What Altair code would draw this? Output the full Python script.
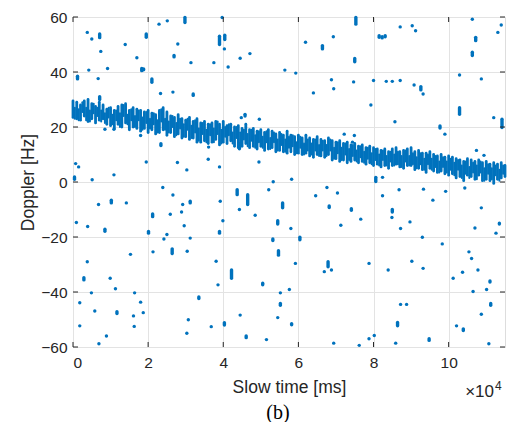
import altair as alt
import pandas as pd

# ---- data (x in units of 1e4 ms, Doppler in Hz) ----
band_x = [round(i * 0.1, 1) for i in range(116)]
band_hi = [29.5, 29, 28, 29.5, 30, 28.5, 27.5, 29, 28, 26.5,
           27, 26, 27.5, 28, 28.5, 26, 27, 26.5, 26, 25.5,
           26, 25, 24.5, 26, 27, 25.5, 24, 23.5, 24.5, 23,
           22.5, 23.5, 22, 23, 21.5, 22, 21, 21.5, 22, 21,
           22, 20.5, 21, 20, 20.5, 19.5, 21, 19, 19.5, 18.5,
           19, 18, 19, 18.5, 17.5, 18, 17, 18.5, 17, 16.5,
           17, 16, 17, 16, 15.5, 16.5, 15.5, 15, 16, 15,
           14.5, 15, 14, 14.5, 13.5, 14, 13, 13.5, 12.5, 13,
           12.5, 12, 11.5, 12, 11, 12, 12.5, 11, 11.5, 12,
           12.5, 11, 11.5, 10.5, 10.5, 11, 10, 9.5, 10, 9,
           9.5, 9, 8.5, 8, 7.5, 8.5, 8, 7.5, 8, 7,
           7.5, 6.5, 7, 6.5, 7, 6]
band_lo = [23.5, 23, 22.5, 24, 22, 23, 21.5, 22.5, 23, 21,
           20.5, 19.5, 21, 20, 21.5, 19, 20, 19.5, 18.5, 19.5,
           18, 19, 17.5, 18, 19, 17, 18, 16.5, 17.5, 16,
           16.5, 15.5, 16, 14.5, 14.5, 15, 14, 14.5, 15.5, 13.5,
           14.5, 14, 15, 13, 12.5, 13, 14, 12.5, 13, 12,
           13, 11.5, 12, 12.5, 11, 11.5, 11, 10.5, 11, 10,
           10.5, 10, 10.5, 9.5, 9, 10, 9.5, 9, 10, 8,
           8.5, 7.5, 8, 7, 7.5, 8, 7, 7.5, 6.5, 7,
           6, 6.5, 5.5, 6, 5, 6, 6.5, 5.5, 5, 6,
           6, 4.5, 5, 4.5, 3.5, 5, 4, 3.5, 4, 3,
           2.5, 3, 1.5, 2, 0.5, 2.5, 2, 1, 2.5, 0.5,
           1, 0.5, -0.5, 1, 1.5, 2]

band2_x = [round(0.05 + i * 0.1, 2) for i in range(115)]
band2_hi = [27, 26.5, 29, 27, 26, 28.5, 27, 26, 25, 27,
            24.5, 26, 25, 28, 24.5, 26.5, 24, 26, 23.5, 25.5,
            23, 25, 22.5, 26.5, 23, 22, 24, 21.5, 23, 21,
            23, 20.5, 22.5, 19.5, 21.5, 19, 21, 19.5, 22, 19,
            20, 21, 18, 20, 18, 19, 17.5, 19, 17, 18.5,
            16.5, 18.5, 16, 18, 15.5, 17.5, 15.5, 16.5, 17, 14.5,
            16.5, 14, 15.5, 14, 15.5, 13.5, 15, 13.5, 15.5, 12.5,
            14.5, 12.5, 14, 12, 13.5, 11.5, 13, 11, 12.5, 10.5,
            12, 10, 11.5, 9.5, 11, 10, 11, 9.5, 11.5, 9.5,
            10.5, 9, 10.5, 8.5, 10, 8.5, 9.5, 7.5, 9, 7.5,
            8.5, 7, 8, 6, 7.5, 5.5, 7, 6, 7.5, 5,
            6.5, 5, 6, 4.5, 6]
band2_lo = [23, 22.5, 25.5, 22.5, 22, 25, 24, 22, 21.5, 23.5,
            21, 22.5, 20, 24, 21, 22.5, 20, 22.5, 19, 21.5,
            19.5, 21, 18, 22, 19, 18, 20, 17, 19.5, 16.5,
            19, 16, 18, 15, 17.5, 14.5, 17, 14.5, 17.5, 14,
            16.5, 17, 14, 16, 13, 15.5, 13, 15, 12.5, 14.5,
            12.5, 14.5, 12, 14.5, 11.5, 13.5, 11, 12.5, 13, 10.5,
            12.5, 10, 11.5, 10, 11.5, 9.5, 11.5, 9.5, 11.5, 8.5,
            10.5, 8, 10, 8, 9.5, 7.5, 9, 7, 8.5, 6.5,
            8, 6, 8, 6, 7.5, 6, 6.5, 5.5, 7.5, 6,
            6.5, 5, 6.5, 4.5, 6.5, 4.5, 5.5, 3.5, 5.5, 3.5,
            4.5, 2.5, 4.5, 1.5, 3, 1.5, 3.5, 1, 3.5, 0.5,
            3, 1, 2.5, 0.5, 3]

out_x = [0.38, 0.50, 0.71, 0.74, 0.42, 0.12, 0.67, 0.71, 0.92, 1.39,
         1.70, 1.95, 1.83, 1.88, 2.10, 2.29, 2.51, 2.98, 2.33, 2.66,
         2.69, 2.79, 3.14, 3.20, 3.75, 3.90, 3.97, 4.04, 4.03, 4.13,
         4.45, 4.71, 5.64, 5.93, 6.19, 6.40, 6.64, 6.88, 6.93, 6.94,
         7.47, 7.50, 7.53, 7.93, 8.00, 8.15, 8.23, 8.31, 8.34, 8.50,
         8.71, 8.71, 9.03, 9.12, 9.08, 9.26, 9.32, 10.29, 10.29, 10.63,
         10.63, 10.72, 10.87, 11.31, 11.40, 11.20, 11.42, 10.74, 10.94, 8.57,
         9.90, 9.77, 7.22, 7.49, 7.44, 4.96, 4.48, 4.58,
         0.07, 0.15, 0.04, 0.51, 1.09, 0.85, 1.09, 1.80, 2.34, 1.95,
         2.78, 3.03, 3.61, 3.60, 3.90, 4.43, 4.95, 5.82, 5.33, 8.06,
         8.24, 10.43,
         0.09, 0.39, 0.38, 0.29, 0.49, 0.18, 0.58, 0.18, 0.68, 0.69,
         0.85, 0.89, 1.02, 0.99, 1.13, 1.17, 1.42, 1.53, 1.61, 1.64,
         1.63, 1.80, 1.87, 2.01, 2.12, 2.13, 2.39, 2.42, 2.50, 2.59,
         2.64, 2.66, 2.89, 2.92, 2.96, 3.12, 3.12, 3.04, 3.07, 3.03,
         3.35, 3.68, 3.81, 3.86, 3.92, 3.90, 3.99, 4.03, 4.22, 4.37,
         4.43, 4.45, 4.65, 4.61, 4.85, 5.05, 5.15, 5.21, 5.32, 5.45,
         5.47, 5.52, 5.52, 5.45, 5.58, 5.76, 5.80, 5.82, 5.92, 6.04,
         6.46, 6.69, 6.76, 6.79, 6.82, 6.88, 6.94, 7.04, 7.13, 7.41,
         7.62, 7.66, 7.88, 7.88, 8.02, 8.24, 8.39, 8.50, 8.49, 8.68,
         8.72, 8.64, 8.72, 8.88, 8.59, 8.97, 9.02, 9.30, 9.32, 9.33,
         9.58, 9.48, 9.83, 9.92, 10.12, 10.21, 10.39, 10.37, 10.54, 10.61,
         10.65, 10.70, 10.78, 10.87, 10.87, 11.01, 11.10, 11.12, 11.07, 11.26,
         11.35]
out_y1 = [54.4, 52.0, 52.5, 47.5, 40.7, 37.5, 37.6, 30.0, 41.3, 50.0,
          45.2, 52.6, 40.5, 40.8, 36.3, 57.4, 58.6, 58.0, 32.2, 32.7,
          45.5, 50.2, 43.4, 31.5, 43.4, 50.0, 59.8, 51.8, 48.4, 41.8,
          45.0, 46.7, 40.7, 39.6, 50.8, 32.4, 48.4, 37.2, 52.8, 33.9,
          36.4, 43.7, 57.4, 28.0, 36.9, 52.6, 52.4, 52.8, 36.6, 36.6,
          36.9, 56.4, 56.8, 55.0, 35.3, 33.5, 32.0, 38.9, 24.6, 59.2,
          46.0, 51.4, 37.5, 54.4, 57.1, 23.4, 19.8, 11.5, 9.7, 21.9,
          17.4, 19.6, 17.4, 16.9, 14.5, 22.8, 23.4, 24.0,
          6.7, 5.5, 1.0, 0.8, 2.6, 19.2, 19.2, 16.9, 13.3, 7.3,
          7.1, 4.4, 12.7, 8.3, 5.5, 12.1, 7.3, 1.0, 0.1, 0.2,
          1.7, -2.2,
          -14.7, -16.2, -29.0, -35.6, -40.3, -43.9, -46.9, -52.3, -8.2, -58.8,
          -17.9, -56.0, -7.6, -35.0, -38.8, -47.8, -7.6, -26.3, -48.7, -40.3,
          -52.5, -43.7, -47.5, -18.6, -12.6, -25.4, -2.0, -20.7, -19.1, -11.7,
          -26.0, -4.7, -10.9, -8.2, -15.9, -7.6, -20.4, -25.2, -50.1, -55.0,
          -42.4, -52.6, -28.8, -37.4, -7.0, -18.6, -14.1, -52.0, -35.0, -4.6,
          -10.0, -48.4, -8.2, -56.6, -12.1, -37.4, -57.3, -2.8, -21.3, -15.3,
          -26.6, -40.3, -44.8, -49.3, -9.4, -39.1, -16.9, -51.9, -29.6, -21.0,
          -5.0, -32.6, -2.0, -30.8, -9.3, -32.0, -58.6, -4.0, -15.7, -10.3,
          -59.4, -13.5, -29.6, -57.0, -55.8, -5.0, -32.0, -10.9, -12.9, -2.8,
          -16.9, -52.3, -44.5, -44.5, -58.6, -14.5, -28.8, -20.1, -31.4, -2.6,
          -6.6, -57.6, -22.5, -3.4, -35.0, -52.3, -54.0, -32.8, -25.4, -27.8,
          -39.8, -16.7, -32.0, -9.4, -48.1, -39.1, -36.4, -44.8, -58.8, -18.6,
          -15.3]
out_y2 = [54.4, 52.0, 53.8, 47.5, 40.7, 38.5, 37.6, 31.0, 41.3, 50.0,
          45.2, 53.8, 41.3, 41.1, 37.5, 57.4, 58.6, 59.8, 32.2, 32.7,
          46.0, 50.2, 43.4, 32.0, 43.4, 53.0, 59.8, 53.4, 48.4, 41.8,
          45.0, 46.7, 40.7, 39.6, 50.8, 32.4, 49.6, 37.2, 52.8, 33.9,
          36.4, 44.9, 59.8, 28.0, 36.9, 53.2, 52.8, 53.2, 36.6, 36.6,
          36.9, 56.4, 56.8, 55.0, 35.3, 34.7, 32.0, 38.9, 27.0, 59.2,
          47.2, 52.6, 37.5, 54.4, 57.1, 23.4, 22.8, 11.5, 9.7, 21.9,
          17.4, 20.4, 17.4, 16.9, 14.5, 22.8, 23.4, 24.6,
          6.7, 5.5, 1.8, 0.8, 2.6, 19.2, 19.2, 16.9, 13.9, 7.3,
          7.1, 4.4, 12.7, 8.3, 5.5, 13.9, 7.3, 1.0, 0.1, 1.7,
          1.7, -2.2,
          -14.7, -16.2, -29.0, -34.8, -40.3, -43.9, -46.9, -52.3, -8.2, -58.8,
          -17.2, -56.0, -6.6, -35.0, -38.8, -47.2, -7.6, -26.3, -48.7, -40.3,
          -52.5, -43.7, -47.5, -18.0, -11.6, -25.4, -2.0, -20.7, -19.1, -11.7,
          -24.3, -4.7, -10.9, -8.2, -15.9, -7.0, -20.4, -25.2, -50.1, -55.0,
          -41.8, -52.6, -28.8, -37.4, -7.0, -18.0, -14.1, -51.2, -32.0, -2.8,
          -10.0, -48.4, -4.6, -56.0, -12.1, -36.8, -57.3, -2.8, -20.7, -14.1,
          -25.0, -40.3, -44.2, -49.3, -7.6, -39.1, -16.9, -51.5, -29.6, -20.1,
          -5.0, -32.6, -2.0, -29.0, -8.7, -32.0, -58.6, -4.0, -15.7, -9.7,
          -59.4, -13.5, -29.6, -57.0, -55.8, -5.0, -32.0, -10.0, -12.9, -2.8,
          -16.9, -51.1, -44.5, -44.5, -58.6, -14.5, -28.8, -20.1, -31.4, -2.6,
          -6.6, -57.0, -22.5, -3.4, -35.0, -52.3, -53.4, -32.8, -25.4, -27.8,
          -39.8, -16.7, -32.0, -9.4, -48.1, -39.1, -36.0, -44.2, -58.8, -18.6,
          -15.0]

x_ticks = [0, 2, 4, 6, 8, 10]
y_ticks = [-60, -40, -20, 0, 20, 40, 60]

BLUE = "#0072BD"
AX = "#262626"
FONT = "Liberation Sans"
SERIF = "'Times New Roman', Times, 'Liberation Serif', 'DejaVu Serif', 'Noto Serif', serif"
W, H = 432, 330

band = pd.DataFrame({"x": band_x, "lo": band_lo, "hi": band_hi})
band2 = pd.DataFrame({"x": band2_x, "lo": band2_lo, "hi": band2_hi})
outl = pd.DataFrame({"x": out_x, "y1": out_y1, "y2": out_y2})
xt = pd.DataFrame({"t": x_ticks})
yt = pd.DataFrame({"t": y_ticks})

xscale = alt.Scale(domain=[0, 11.5], nice=False, zero=False)
yscale = alt.Scale(domain=[-60, 60], nice=False, zero=False)

xaxis = alt.Axis(values=x_ticks, grid=True, gridColor="#e3e3e3", ticks=False, domain=False,
                 labelFontSize=15.5, labelColor=AX, labelFont=FONT, labelPadding=8,
                 title="Slow time [ms]", titleFont=FONT, titleFontSize=17.5,
                 titleFontWeight="normal", titleColor=AX, titlePadding=8)
yaxis = alt.Axis(values=y_ticks, grid=True, gridColor="#e3e3e3", ticks=False, domain=False,
                 labelFontSize=15.5, labelColor=AX, labelFont=FONT, labelPadding=6,
                 title="Doppler [Hz]", titleFont=FONT, titleFontSize=17.5,
                 titleFontWeight="normal", titleColor=AX, titlePadding=3)

band_layer = alt.Chart(band).mark_rule(color=BLUE, strokeWidth=2.8, strokeCap="round").encode(
    x=alt.X("x:Q", scale=xscale, axis=xaxis),
    y=alt.Y("lo:Q", scale=yscale, axis=yaxis),
    y2="hi:Q",
)
band2_layer = alt.Chart(band2).mark_rule(color=BLUE, strokeWidth=2.0, strokeCap="round").encode(
    x=alt.X("x:Q", scale=xscale),
    y=alt.Y("lo:Q", scale=yscale),
    y2="hi:Q",
)

out_layer = alt.Chart(outl).mark_rule(color=BLUE, strokeWidth=3.4, strokeCap="round").encode(
    x=alt.X("x:Q", scale=xscale),
    y=alt.Y("y1:Q", scale=yscale),
    y2="y2:Q",
)

xtick_b = alt.Chart(xt).mark_rule(color=AX, strokeWidth=1).encode(
    x=alt.X("t:Q", scale=xscale), y=alt.value(H), y2=alt.value(H - 5))
xtick_t = alt.Chart(xt).mark_rule(color=AX, strokeWidth=1).encode(
    x=alt.X("t:Q", scale=xscale), y=alt.value(0), y2=alt.value(5))
ytick_l = alt.Chart(yt).mark_rule(color=AX, strokeWidth=1).encode(
    y=alt.Y("t:Q", scale=yscale), x=alt.value(0), x2=alt.value(5))
ytick_r = alt.Chart(yt).mark_rule(color=AX, strokeWidth=1).encode(
    y=alt.Y("t:Q", scale=yscale), x=alt.value(W), x2=alt.value(W - 5))

mult = alt.Chart(pd.DataFrame({"s": ["\u00d710"]})).mark_text(
    font=FONT, fontSize=17, color=AX, align="right", baseline="alphabetic").encode(
    text="s:N", x=alt.value(421), y=alt.value(380))
sup = alt.Chart(pd.DataFrame({"s": ["4"]})).mark_text(
    font=FONT, fontSize=12, color=AX, align="left", baseline="alphabetic").encode(
    text="s:N", x=alt.value(422), y=alt.value(373))
cap = alt.Chart(pd.DataFrame({"s": ["(b)"]})).mark_text(
    font=SERIF, fontSize=20, color="#000000", align="center", baseline="middle").encode(
    text="s:N", x=alt.value(205), y=alt.value(396))

chart = alt.layer(band_layer, band2_layer, out_layer, xtick_b, xtick_t, ytick_l, ytick_r,
                  mult, sup, cap).properties(
    width=W, height=H,
    autosize=alt.AutoSizeParams(type="none"),
    padding={"left": 65, "top": 9, "right": 13, "bottom": 75},
).configure_view(stroke=AX, strokeWidth=1).configure(background="white")

chart.save("out.html", embed_options={"renderer": "svg", "actions": False})
